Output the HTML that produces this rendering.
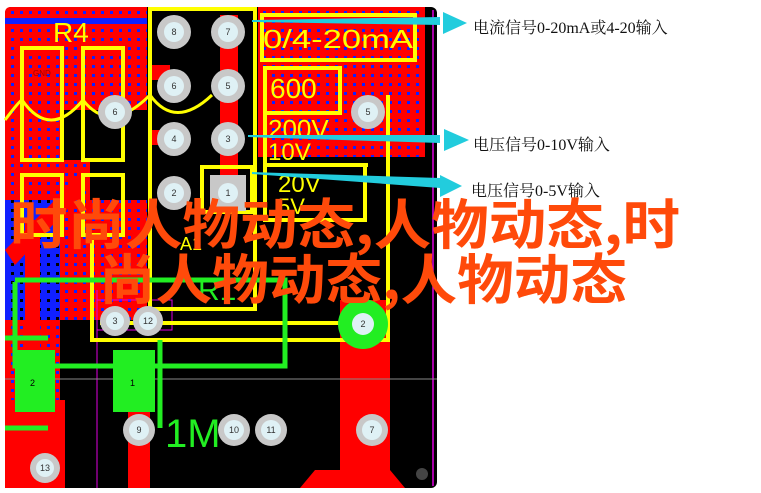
<!DOCTYPE html>
<html><head><meta charset="utf-8"><style>
html,body{margin:0;padding:0;background:#fff;width:761px;height:493px;overflow:hidden}
</style></head><body>
<svg width="761" height="493" viewBox="0 0 761 493" xmlns="http://www.w3.org/2000/svg">
<defs>
<pattern id="dots" width="9" height="9" patternUnits="userSpaceOnUse">
<rect width="9" height="9" fill="#ff0000"/><rect x="2" y="2" width="3" height="3" fill="#1020ff"/>
</pattern>
<pattern id="bdots" width="9" height="9" patternUnits="userSpaceOnUse">
<rect width="9" height="9" fill="#1020ff"/><rect x="2" y="2" width="3" height="3" fill="#000"/>
</pattern>
</defs>
<rect x="5" y="7" width="432" height="481" rx="6" fill="#000"/>
<path d="M5 13 Q5 7 11 7 L147 7 L147 320 L60 320 L60 400 L5 400 Z" fill="url(#dots)"/>
<rect x="5" y="18" width="142" height="6" fill="#1020ff"/>
<rect x="5" y="200" width="55" height="120" fill="url(#bdots)"/>
<path d="M5 250 L90 165 L100 175 L15 265 Z" fill="#ff0000"/>
<rect x="25" y="220" width="15" height="170" fill="#ff0000"/>
<rect x="60" y="110" width="87" height="50" fill="#000"/>
<rect x="90" y="155" width="57" height="45" fill="#000"/>
<rect x="5" y="400" width="60" height="88" fill="#ff0000"/>
<rect x="220" y="15" width="18" height="190" fill="#ff0000"/>
<rect x="150" y="65" width="20" height="15" fill="#ff0000"/>
<rect x="150" y="130" width="20" height="15" fill="#ff0000"/>
<rect x="258" y="7" width="167" height="150" fill="url(#dots)"/>
<rect x="340" y="300" width="50" height="188" fill="#ff0000"/>
<path d="M300 488 L315 470 L390 470 L405 488 Z" fill="#ff0000"/>
<rect x="128" y="400" width="22" height="88" fill="#ff0000"/>
<line x1="433" y1="10" x2="433" y2="486" stroke="#e000e0" stroke-width="1.5"/>
<line x1="97" y1="290" x2="97" y2="488" stroke="#e000e0" stroke-width="1"/>
<rect x="97" y="300" width="75" height="30" fill="none" stroke="#e000e0" stroke-width="1"/>
<line x1="5" y1="379" x2="437" y2="379" stroke="#888" stroke-width="1"/>
<g fill="none" stroke="#ffff00" stroke-width="4">
<rect x="150" y="9" width="105" height="300"/>
<polyline points="92,240 92,340 388,340 388,95"/>
<rect x="262" y="15" width="153" height="45"/>
<rect x="265" y="68" width="75" height="45"/>
<polyline points="265,113 265,165 368,165"/>
<rect x="265" y="165" width="100" height="55"/>
<rect x="202" y="167" width="50" height="45"/>
<rect x="22" y="48" width="40" height="112"/>
<rect x="83" y="48" width="40" height="112"/>
<rect x="22" y="175" width="40" height="60"/>
<rect x="83" y="175" width="40" height="60"/>
<path d="M5 120 Q20 100 22 100 M22 100 Q50 140 83 100 Q110 135 150 95 M150 95 Q175 130 212 95" stroke-width="3"/>
<line x1="100" y1="323" x2="350" y2="323"/>
</g>
<text x="53" y="42" font-family="Liberation Sans,sans-serif" font-size="28" fill="#ffff00">R4</text>
<text x="263" y="48" font-family="Liberation Sans,sans-serif" font-size="26" fill="#ffff00" textLength="150" lengthAdjust="spacingAndGlyphs">0/4-20mA</text>
<text x="270" y="98" font-family="Liberation Sans,sans-serif" font-size="28" fill="#ffff00">600</text>
<text x="268" y="138" font-family="Liberation Sans,sans-serif" font-size="26" fill="#ffff00">200V</text>
<text x="268" y="160" font-family="Liberation Sans,sans-serif" font-size="24" fill="#ffff00">10V</text>
<text x="278" y="192" font-family="Liberation Sans,sans-serif" font-size="24" fill="#ffff00">20V</text>
<text x="278" y="214" font-family="Liberation Sans,sans-serif" font-size="22" fill="#ffff00">5V</text>
<text x="180" y="250" font-family="Liberation Sans,sans-serif" font-size="18" fill="#ffff00">A1</text>
<text x="33" y="76" font-family="Liberation Sans,sans-serif" font-size="8" fill="#900">GND</text>
<g fill="none" stroke="#22ee22" stroke-width="5">
<polyline points="15,282 15,366 285,366 285,280 15,280"/>
<polyline points="160,340 160,428"/>
<line x1="5" y1="338" x2="48" y2="338"/>
<line x1="5" y1="428" x2="48" y2="428"/>
</g>
<rect x="15" y="350" width="40" height="62" fill="#22ee22"/>
<rect x="113" y="350" width="42" height="62" fill="#22ee22"/>
<text x="30" y="386" font-family="Liberation Sans,sans-serif" font-size="9" fill="#000">2</text>
<text x="130" y="386" font-family="Liberation Sans,sans-serif" font-size="9" fill="#000">1</text>
<text x="198" y="300" font-family="Liberation Sans,sans-serif" font-size="30" fill="#22ee22">R1</text>
<text x="165" y="447" font-family="Liberation Sans,sans-serif" font-size="40" fill="#22ee22">1M</text>
<circle cx="363" cy="324" r="25" fill="#22ee22"/>
<g font-family="Liberation Sans,sans-serif" font-size="9" fill="#333" text-anchor="middle">
<g fill="#c8c8c8">
<circle cx="174" cy="32" r="17"/><circle cx="228" cy="32" r="17"/>
<circle cx="174" cy="86" r="17"/><circle cx="228" cy="86" r="17"/>
<circle cx="115" cy="112" r="17"/><circle cx="368" cy="112" r="17"/>
<circle cx="174" cy="139" r="17"/><circle cx="228" cy="139" r="17"/>
<circle cx="174" cy="193" r="17"/><rect x="210" y="175" width="36" height="36"/>
<circle cx="115" cy="321" r="15"/><circle cx="148" cy="321" r="15"/>
<circle cx="139" cy="430" r="16"/><circle cx="234" cy="430" r="16"/>
<circle cx="271" cy="430" r="16"/><circle cx="372" cy="430" r="16"/>
<circle cx="45" cy="468" r="15"/>
</g>
<g fill="#dff1f5">
<circle cx="174" cy="32" r="10"/><circle cx="228" cy="32" r="10"/>
<circle cx="174" cy="86" r="10"/><circle cx="228" cy="86" r="10"/>
<circle cx="115" cy="112" r="10"/><circle cx="368" cy="112" r="10"/>
<circle cx="174" cy="139" r="10"/><circle cx="228" cy="139" r="10"/>
<circle cx="174" cy="193" r="10"/><circle cx="228" cy="193" r="10"/>
<circle cx="115" cy="321" r="9"/><circle cx="148" cy="321" r="9"/>
<circle cx="363" cy="324" r="11"/>
<circle cx="139" cy="430" r="10"/><circle cx="234" cy="430" r="10"/>
<circle cx="271" cy="430" r="10"/><circle cx="372" cy="430" r="10"/>
<circle cx="45" cy="468" r="9"/>
</g>
<text x="174" y="35">8</text><text x="228" y="35">7</text>
<text x="174" y="89">6</text><text x="228" y="89">5</text>
<text x="115" y="115">6</text><text x="368" y="115">5</text>
<text x="174" y="142">4</text><text x="228" y="142">3</text>
<text x="174" y="196">2</text><text x="228" y="196">1</text>
<text x="115" y="324">3</text><text x="148" y="324">12</text>
<text x="363" y="327">2</text>
<text x="139" y="433">9</text><text x="234" y="433">10</text>
<text x="271" y="433">11</text><text x="372" y="433">7</text>
<text x="45" y="471">13</text>
</g>
<circle cx="422" cy="474" r="6" fill="#444"/>
<g fill="#22ccdd" stroke="none">
<polygon points="252,20 440,17 440,25 252,22"/>
<polygon points="443,12 467,23 443,34"/>
<polygon points="248,135 440,135 440,143 248,137"/>
<polygon points="444,129 469,140 444,151"/>
<polygon points="252,172 440,178 440,188 252,174"/>
<polygon points="440,175 462,186 440,197"/>
</g>
<g font-family="Liberation Serif,'Noto Serif CJK SC',serif" font-size="16" fill="#111">
<text x="473" y="33">电流信号0-20mA或4-20输入</text>
<text x="473" y="150">电压信号0-10V输入</text>
<text x="471" y="196">电压信号0-5V输入</text>
</g>
<g font-family="'Noto Sans CJK SC',sans-serif" font-weight="bold" font-size="54" fill="#ff4a0a">
<text x="10" y="244" textLength="670" lengthAdjust="spacingAndGlyphs">时尚人物动态,人物动态,时</text>
<text x="99" y="299" textLength="528" lengthAdjust="spacingAndGlyphs">尚人物动态,人物动态</text>
</g>
</svg>
</body></html>
